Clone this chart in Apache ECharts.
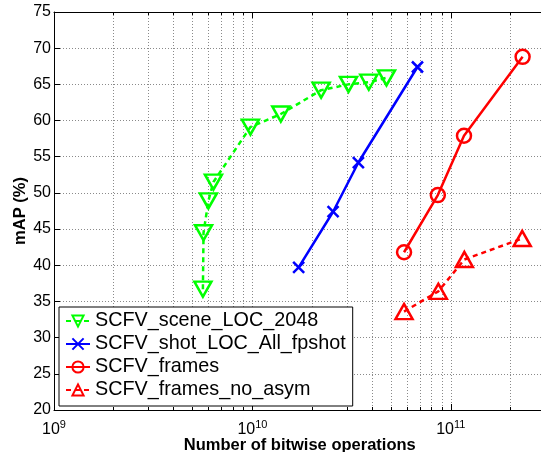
<!DOCTYPE html>
<html><head><meta charset="utf-8">
<script src="https://cdn.jsdelivr.net/npm/echarts@6/dist/echarts.min.js"></script>
<style>html,body{margin:0;padding:0;background:#fff}#c{width:541px;height:452px}</style>
</head><body><div id="c"></div>
<script>
const sceneX = [5.63e9, 5.67e9, 6.0e9, 6.36e9, 9.77e9, 1.39e10, 2.22e10, 3.05e10, 3.86e10, 4.74e10];
const sceneY = [36.7, 44.5, 48.9, 51.5, 59.1, 60.9, 64.2, 65.0, 65.3, 65.9];
const shotX = [1.71e10, 2.55e10, 3.42e10, 6.79e10];
const shotY = [39.7, 47.4, 54.2, 67.4];
const framesX = [5.81e10, 8.6e10, 1.165e11, 2.3e11];
const framesY = [41.8, 49.7, 57.9, 68.8];
const noAsymX = [5.81e10, 8.65e10, 1.17e11, 2.29e11];
const noAsymY = [33.6, 36.4, 40.8, 43.7];
const seriesNames = ['SCFV_scene_LOC_2048', 'SCFV_shot_LOC_All_fpshot', 'SCFV_frames', 'SCFV_frames_no_asym'];
const xMajor = [1e9, 1e10, 1e11];
const xMinor = [2e9, 3e9, 4e9, 5e9, 6e9, 7e9, 8e9, 9e9, 2e10, 3e10, 4e10, 5e10, 6e10, 7e10, 8e10, 9e10, 2e11];
const yMin = 20, yMax = 75, yStep = 5;
const xMin = 1e9, xMax = 3e11;

const FONT = 'Liberation Sans';
const zip = (xs, ys) => xs.map((x, i) => [x, ys[i]]);
const dotted = { color: '#8a8a8a', width: 1, type: [1, 2] };

function xLabel(v) {
  const e = Math.round(Math.log10(v));
  if (Math.abs(v - Math.pow(10, e)) > 1e-6 * v) return '';
  return '{b|10}{s|' + e + '}';
}
const xRich = {
  b: { fontSize: 16, fontFamily: FONT, color: '#000', lineHeight: 22 },
  s: { fontSize: 11, fontFamily: FONT, color: '#000', verticalAlign: 'top' }
};

const chart = echarts.init(document.getElementById('c'), null, { renderer: 'canvas' });
chart.setOption({
  animation: false,
  backgroundColor: '#fff',
  grid: { left: 54, top: 12, right: -4.5, bottom: 42, containLabel: false, outerBoundsMode: 'none' },
  xAxis: [
    {
      type: 'log', logBase: 10, min: xMin, max: xMax, position: 'bottom',
      name: 'Number of bitwise operations', nameLocation: 'middle', nameGap: 27, nameMoveOverlap: false,
      nameTextStyle: { fontFamily: FONT, fontSize: 16.5, fontWeight: 'bold', color: '#000' },
      axisLine: { show: true, lineStyle: { color: '#000', width: 1 } },
      axisTick: { show: true, inside: true, length: 6, customValues: xMajor, lineStyle: { color: '#000' } },
      axisLabel: { show: true, margin: 9, customValues: xMajor, formatter: xLabel, rich: xRich },
      splitLine: { show: true, lineStyle: dotted }
    },
    {
      type: 'log', logBase: 10, min: xMin, max: xMax, position: 'bottom',
      axisLine: { show: false },
      axisTick: { show: true, inside: true, length: 3, customValues: xMinor, lineStyle: { color: '#000' } },
      axisLabel: { show: false },
      splitLine: { show: true, lineStyle: dotted }
    },
    {
      type: 'log', logBase: 10, min: xMin, max: xMax, position: 'top',
      axisLine: { show: true, lineStyle: { color: '#000', width: 1 } },
      axisTick: { show: true, inside: true, length: 6, customValues: xMajor, lineStyle: { color: '#000' } },
      axisLabel: { show: false },
      splitLine: { show: false }
    },
    {
      type: 'log', logBase: 10, min: xMin, max: xMax, position: 'top',
      axisLine: { show: false },
      axisTick: { show: true, inside: true, length: 3, customValues: xMinor, lineStyle: { color: '#000' } },
      axisLabel: { show: false },
      splitLine: { show: false }
    }
  ],
  yAxis: [
    {
      type: 'value', min: yMin, max: yMax, interval: yStep,
      name: 'mAP (%)', nameLocation: 'middle', nameGap: 25, nameRotate: 90, nameMoveOverlap: false,
      nameTextStyle: { fontFamily: FONT, fontSize: 16.5, fontWeight: 'bold', color: '#000' },
      axisLine: { show: true, lineStyle: { color: '#000', width: 1 } },
      axisTick: { show: true, inside: true, length: 6, lineStyle: { color: '#000' } },
      axisLabel: { show: true, margin: 3, fontFamily: FONT, fontSize: 16, color: '#000' },
      splitLine: { show: true, lineStyle: dotted }
    }
  ],
  legend: {
    orient: 'vertical', left: 59, top: 307,
    backgroundColor: '#fff', borderColor: '#000', borderWidth: 1, borderRadius: 0,
    padding: [4, 7, 6, 6], itemGap: 3, itemWidth: 24, itemHeight: 14,
    textStyle: { fontFamily: FONT, fontSize: 19.8, color: '#000' },
    data: seriesNames
  },
  series: [
    {
      name: seriesNames[0], type: 'line', xAxisIndex: 0, yAxisIndex: 0,
      data: zip(sceneX, sceneY),
      symbol: 'triangle', symbolRotate: 180, symbolSize: [17, 15], showAllSymbol: true,
      itemStyle: { color: 'rgba(0,0,0,0)', borderColor: '#00ff00', borderWidth: 2.5 },
      lineStyle: { color: '#00ff00', width: 2.5, type: [5, 4] },
      z: 5
    },
    {
      name: seriesNames[1], type: 'line', xAxisIndex: 0, yAxisIndex: 0,
      data: zip(shotX, shotY),
      symbol: 'path://M0,0L10,10M10,0L0,10', symbolSize: 11,
      itemStyle: { color: 'rgba(0,0,0,0)', borderColor: '#0000ff', borderWidth: 2.5 },
      lineStyle: { color: '#0000ff', width: 2.5, type: 'solid' },
      z: 5
    },
    {
      name: seriesNames[2], type: 'line', xAxisIndex: 0, yAxisIndex: 0,
      data: zip(framesX, framesY),
      symbol: 'circle', symbolSize: 14,
      itemStyle: { color: 'rgba(0,0,0,0)', borderColor: '#ff0000', borderWidth: 2.5 },
      lineStyle: { color: '#ff0000', width: 2.5, type: 'solid' },
      z: 5
    },
    {
      name: seriesNames[3], type: 'line', xAxisIndex: 0, yAxisIndex: 0,
      data: zip(noAsymX, noAsymY),
      symbol: 'triangle', symbolSize: [17, 15],
      itemStyle: { color: 'rgba(0,0,0,0)', borderColor: '#ff0000', borderWidth: 2.5 },
      lineStyle: { color: '#ff0000', width: 2.5, type: [5, 4] },
      z: 5
    }
  ]
});
</script>
</body></html>
